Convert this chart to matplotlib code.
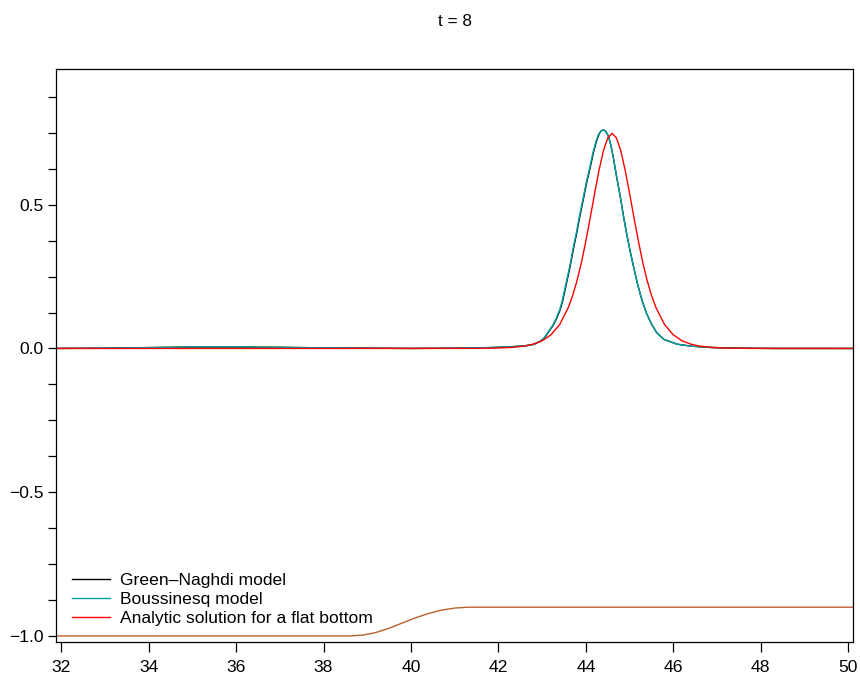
import matplotlib
matplotlib.use("Agg")
import matplotlib.pyplot as plt
from matplotlib.ticker import MultipleLocator

plt.rcParams['font.family'] = ['Liberation Sans', 'DejaVu Sans']

# surface elevation at t = 8
gn_x = [31.8, 33.0, 34.0, 35.0, 36.0, 37.0, 38.0, 39.0, 40.0, 41.0, 41.8, 42.3,
        42.6, 42.8, 42.95, 43.05, 43.15, 43.25, 43.33, 43.41, 43.47, 43.55, 43.64,
        43.71, 43.79, 43.86, 43.94, 44.02, 44.10, 44.17, 44.24, 44.30, 44.35, 44.40,
        44.45, 44.51, 44.57, 44.63, 44.70, 44.80, 44.86, 44.93, 45.01, 45.09, 45.18,
        45.28, 45.38, 45.50, 45.62, 45.78, 46.08, 46.40, 46.90, 47.5, 48.3, 50.2]
gn_y = [0.0, 0.001, 0.003, 0.005, 0.005, 0.004, 0.002, 0.001, 0.0, 0.001, 0.003, 0.006,
        0.009, 0.014, 0.024, 0.036, 0.058, 0.080, 0.104, 0.134, 0.166, 0.222, 0.285,
        0.342, 0.401, 0.458, 0.517, 0.578, 0.630, 0.680, 0.720, 0.745, 0.757, 0.760,
        0.756, 0.740, 0.708, 0.662, 0.600, 0.517, 0.460, 0.401, 0.340, 0.285, 0.225,
        0.169, 0.125, 0.085, 0.055, 0.032, 0.015, 0.008, 0.003, 0.001, 0.0, 0.0]

bq_x = [31.8, 33.0, 34.0, 35.0, 36.0, 37.0, 38.0, 39.0, 40.0, 41.0, 41.8, 42.3,
        42.6, 42.8, 42.94, 43.04, 43.14, 43.24, 43.32, 43.40, 43.46, 43.54, 43.63,
        43.70, 43.78, 43.85, 43.93, 44.01, 44.09, 44.16, 44.23, 44.29, 44.35, 44.40,
        44.45, 44.51, 44.57, 44.63, 44.70, 44.80, 44.86, 44.93, 45.01, 45.09, 45.18,
        45.28, 45.38, 45.50, 45.62, 45.78, 46.08, 46.40, 46.90, 47.5, 48.3, 50.2]
bq_y = [0.0, 0.001, 0.003, 0.005, 0.005, 0.004, 0.002, 0.001, 0.0, 0.001, 0.003, 0.006,
        0.009, 0.014, 0.024, 0.036, 0.058, 0.080, 0.104, 0.134, 0.166, 0.222, 0.285,
        0.342, 0.401, 0.458, 0.517, 0.578, 0.630, 0.680, 0.720, 0.745, 0.757, 0.760,
        0.756, 0.740, 0.708, 0.662, 0.600, 0.517, 0.460, 0.401, 0.340, 0.285, 0.225,
        0.169, 0.125, 0.085, 0.055, 0.032, 0.015, 0.008, 0.003, 0.001, 0.0, 0.0]

flat_x = [31.8, 41.4, 41.9, 42.3, 42.6, 42.8, 43.0, 43.2, 43.4, 43.6, 43.7, 43.8,
          43.9, 44.0, 44.1, 44.2, 44.3, 44.4, 44.5, 44.6, 44.7, 44.8, 44.9, 45.0,
          45.1, 45.2, 45.3, 45.4, 45.5, 45.6, 45.8, 46.0, 46.2, 46.4, 46.6, 46.9,
          47.3, 47.8, 50.2]
flat_y = [0.0, 0.0002, 0.0011, 0.0035, 0.0083, 0.015, 0.0266, 0.0473, 0.0829, 0.143,
          0.185, 0.237, 0.300, 0.374, 0.455, 0.539, 0.619, 0.687, 0.732, 0.748, 0.732,
          0.687, 0.619, 0.539, 0.455, 0.374, 0.300, 0.237, 0.185, 0.143, 0.0829, 0.0473,
          0.0266, 0.015, 0.0083, 0.0035, 0.0011, 0.0002, 0.0]

# bottom profile (step from -1 to -0.9)
bot_x = [31.8, 38.6, 38.9, 39.2, 39.5, 39.8, 40.1, 40.4, 40.7, 41.0, 41.3, 50.2]
bot_y = [-1.0, -1.0, -0.997, -0.988, -0.973, -0.955, -0.937, -0.922, -0.910, -0.903, -0.900, -0.900]

labels = ["Green–Naghdi model", "Boussinesq model", "Analytic solution for a flat bottom"]
x_ticks = [32, 34, 36, 38, 40, 42, 44, 46, 48, 50]
y_ticks = [-1.0, -0.5, 0.0, 0.5]

fig = plt.figure(figsize=(8.6, 6.76), dpi=100)
ax = fig.add_axes([56 / 860, 1 - 641.7 / 676, 797 / 860, (641.7 - 69) / 676])

ax.plot(gn_x, gn_y, color="black", lw=1.0, label=labels[0])
ax.plot(bq_x, bq_y, color="#00a3a3", lw=1.0, label=labels[1])
ax.plot(flat_x, flat_y, color="red", lw=1.0, label=labels[2])
ax.plot(bot_x, bot_y, color="#b8622c", lw=1.0)

ax.set_xlim(31.88, 50.11)
ax.set_ylim(-1.02, 0.972)
ax.set_xticks(x_ticks)
ax.set_yticks(y_ticks)
ax.set_yticklabels(["−1.0", "−0.5", "0.0", "0.5"])
ax.yaxis.set_minor_locator(MultipleLocator(0.125))
ax.tick_params(axis="x", length=7, width=0.9, pad=6.5, labelsize=12.6)
ax.tick_params(axis="y", which="both", length=6, width=0.9, pad=3, labelsize=12.6)
for s in ax.spines.values():
    s.set_linewidth(0.9)

ax.set_title("t = 8", fontsize=12.3, pad=31)

ax.legend(loc="upper left", bbox_to_anchor=(0.020, 0.121), frameon=False,
          fontsize=12.6, handlelength=2.2, handletextpad=0.55, labelspacing=0.22,
          borderpad=0, borderaxespad=0)

fig.savefig("out.png", dpi=100)
